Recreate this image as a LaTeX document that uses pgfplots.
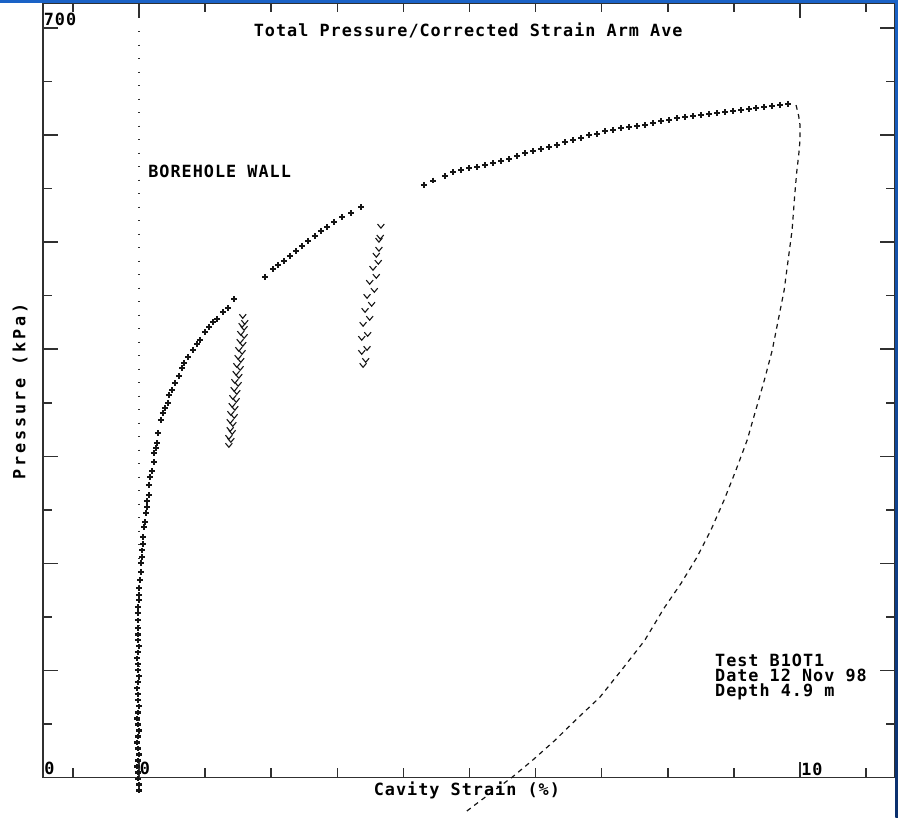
\documentclass[border=0pt]{standalone}
\usepackage{fontspec}
\usepackage{pgfplots}
\pgfplotsset{compat=1.18}
\newfontfamily\plotfont[LetterSpace=6]{DejaVu Sans Mono}
\newfontfamily\ylabfont[LetterSpace=17]{DejaVu Sans Mono}
\definecolor{axisgray}{HTML}{303030}
\definecolor{markblack}{HTML}{151515}
\definecolor{topblue}{HTML}{1A62C6}
\definecolor{navyblue}{HTML}{0A2F6C}
\newcommand{\pf}{\plotfont\bfseries\fontsize{8.4}{9}\selectfont}

% check-mark used for the unload/reload loops
\pgfdeclareplotmark{vee}{%
  \pgfpathmoveto{\pgfqpoint{-\pgfplotmarksize}{0.6\pgfplotmarksize}}%
  \pgfpathlineto{\pgfqpoint{0pt}{-0.6\pgfplotmarksize}}%
  \pgfpathlineto{\pgfqpoint{\pgfplotmarksize}{0.6\pgfplotmarksize}}%
  \pgfusepathqstroke}

\pgfplotsset{
  plusmarks/.style={only marks, mark=+, mark size=1.45pt, line width=1.05pt, color=markblack},
  veemarks/.style={only marks, mark=vee, mark size=1.7pt, line width=0.55pt, color=markblack},
}

\begin{document}
\begin{tikzpicture}
\begin{axis}[
    name=ax,
    scale only axis,
    width=426pt, height=387pt,
    xmin=-1.452, xmax=11.437,
    ymin=0, ymax=722.9,
    clip=false,
    axis line style={line width=0.75pt, color=axisgray},
    tick style={line width=0.75pt, color=axisgray},
    tick align=inside,
    xtick={0,10},
    minor xtick={-1,1,2,3,4,5,6,7,8,9,11},
    ytick={0,100,200,300,400,500,600,700},
    minor ytick={50,150,250,350,450,550,650},
    xticklabels={}, yticklabels={},
    major tick length=7.5pt,
    minor tick length=4.5pt,
]

% borehole wall
\addplot[axisgray, line width=0.6pt, dash pattern=on 0.6pt off 6.15pt] coordinates {(0,697) (0,-12)};

% loading curve
\addplot[plusmarks] coordinates {
(0.00,-12.1) (0.00,-6.5) (-0.02,-1) (-0.02,4.7) (-0.03,10.3) (-0.02,15.9) (0.00,21.5)
(-0.02,27.1) (-0.03,32.7) (-0.02,38.3) (0.00,43.9) (-0.02,49.5) (-0.03,55.1) (-0.02,60.7)
(0.00,66.4) (-0.02,72.0) (-0.02,77.6) (-0.03,83.2) (-0.02,88.8) (0.00,94.4) (-0.02,100)
(-0.02,105.6) (-0.03,111.2) (-0.02,116.8) (0.00,122.4) (-0.02,128) (-0.02,133.6) (-0.02,139.3)
(-0.02,146.7) (-0.02,153.3) (-0.02,158.9) (0.00,165.4) (0.00,170.1) (0.00,176.6) (0.02,184.1)
(0.03,191.6) (0.03,200) (0.05,205.6) (0.05,212.1) (0.06,217.8) (0.06,224.3) (0.08,233.6)
(0.09,238.3) (0.11,246.7) (0.12,252.3) (0.12,257.9) (0.15,263.6) (0.15,272.9) (0.17,280.4)
(0.20,286) (0.23,294.4) (0.23,302.8) (0.26,307.5) (0.27,312.1) (0.29,321.5) (0.33,333.6)
(0.36,340.2) (0.39,344.9) (0.44,349.5) (0.45,357) (0.50,361.7) (0.54,368.2) (0.61,374.8)
(0.65,382.2) (0.68,386.9) (0.74,392.5) (0.82,399.1) (0.88,404.7) (0.92,408.4) (1.00,415.9)
(1.06,420.6) (1.12,425.2) (1.18,428) (1.27,434.6) (1.35,438.3) (1.44,446.7)
};

% first unload / reload loop
\addplot[veemarks] coordinates {
(1.57,430.8) (1.56,422.4) (1.54,415) (1.53,407.5) (1.51,400) (1.50,392.5) (1.48,385)
(1.47,377.6) (1.45,370.1) (1.44,362.6) (1.42,355.1) (1.41,347.7) (1.39,340.2) (1.38,332.7)
(1.38,325.2) (1.36,317.8) (1.36,310.3)
(1.39,315) (1.41,322.4) (1.42,329.9) (1.44,337.4) (1.45,344.9) (1.47,352.3) (1.48,359.8)
(1.50,367.3) (1.51,374.8) (1.53,382.2) (1.54,389.7) (1.56,397.2) (1.57,404.7) (1.59,412.1)
(1.59,419.6) (1.60,425.2)
};

% reloading
\addplot[plusmarks] coordinates {
(1.91,467.3) (2.03,474.8) (2.10,478.5) (2.19,482.2) (2.28,486.9) (2.38,491.6) (2.47,496.3)
(2.56,500.9) (2.66,505.6) (2.75,510.3) (2.84,514) (2.95,518.7) (3.07,523.4) (3.21,527.1)
(3.36,532.7)
};

% second unload / reload loop
\addplot[veemarks] coordinates {
(3.66,515) (3.63,501.9) (3.59,487.9) (3.54,475.7) (3.49,462.6) (3.45,449.5) (3.42,436.4)
(3.39,423.4) (3.37,410.3) (3.37,397.2) (3.39,385)
(3.43,389.7) (3.45,400.9) (3.46,414) (3.49,429) (3.52,442.1) (3.56,455.1) (3.59,468.2)
(3.62,481.3) (3.63,493.5) (3.65,504.7)
};

% final loading
\addplot[plusmarks] coordinates {
(4.31,553.3) (4.45,557.5) (4.63,561.7) (4.75,565.4) (4.87,567.3) (4.99,569.2) (5.11,570.1) (5.23,572)
(5.36,573.8) (5.48,575.7) (5.60,577.6) (5.72,580.4) (5.84,583.2) (5.96,585) (6.08,586.9)
(6.20,588.8) (6.32,590.7) (6.44,593.5) (6.57,595.3) (6.69,597.2) (6.81,600) (6.93,600.9)
(7.05,603.7) (7.17,604.7) (7.29,606.5) (7.41,607.5) (7.53,608.4) (7.66,609.3) (7.78,611.2)
(7.90,613.1) (8.02,614) (8.14,615.9) (8.26,616.8) (8.38,617.8) (8.50,618.7) (8.62,619.6)
(8.74,620.6) (8.87,621.5) (8.99,622.4) (9.11,623.4) (9.23,624.3) (9.33,625.2) (9.46,626.2)
(9.58,627.1) (9.70,628) (9.82,629)
};

% final unloading
\addplot[markblack, line width=0.6pt, dash pattern=on 2.4pt off 2.2pt] coordinates {
(9.94,628.0) (9.98,617.8) (10.00,609.3) (10.00,595.3) (9.98,581.3) (9.95,565.4) (9.92,543.9)
(9.88,511.2) (9.82,483.2) (9.76,455.1) (9.67,427.1) (9.58,399.1) (9.46,371.0) (9.33,343.0)
(9.20,315.0) (9.03,286.9) (8.85,258.9) (8.65,230.8) (8.44,205.6) (8.20,181.3) (7.94,157.9)
(7.65,128.0) (7.32,101.9) (6.97,74.8) (6.63,55.1) (6.29,34.6) (5.95,15.9) (5.64,0)
(5.31,-15.0) (4.93,-32.7)
};

% texts
\node[font=\pf] at (axis cs:4.98,698) {Total Pressure/Corrected Strain Arm Ave};
\node[font=\pf, anchor=west, inner sep=0pt] at (axis cs:0.136,566.4) {BOREHOLE WALL};
\node[font=\pf, anchor=north west, inner sep=0pt, align=left] at (axis cs:8.71,116)
  {Test B1OT1\\[-1.5pt]Date 12 Nov 98\\[-1.5pt]Depth 4.9 m};
\node[font=\pf] at (axis cs:4.96,-12.1) {Cavity Strain (\%)};
\node[font=\ylabfont\bfseries\fontsize{8.4}{9}\selectfont, rotate=90] at (axis cs:-1.80,360.7) {Pressure (kPa)};
\node[font=\pf, inner sep=0pt] at (axis cs:-1.195,708) {700};
\node[font=\pf, inner sep=0pt] at (axis cs:-1.354,8.4) {0};
\node[font=\pf, inner sep=0pt] at (axis cs:0.09,8.4) {0};
\node[font=\pf, inner sep=0pt] at (axis cs:10.18,7.5) {10};
\end{axis}

\pgfresetboundingbox
\coordinate (BL) at ([xshift=-21.5pt,yshift=-20pt]ax.south west);
\coordinate (TR) at ([xshift=1.5pt,yshift=1.75pt]ax.north east);
\path[use as bounding box] (BL) rectangle (TR);
\fill[topblue] (BL |- TR) ++(0,-1.5pt) rectangle (TR);
\shade[top color=topblue, bottom color=navyblue] (TR) ++(-1.3pt,0) rectangle (BL -| TR);
\end{tikzpicture}
\end{document}
